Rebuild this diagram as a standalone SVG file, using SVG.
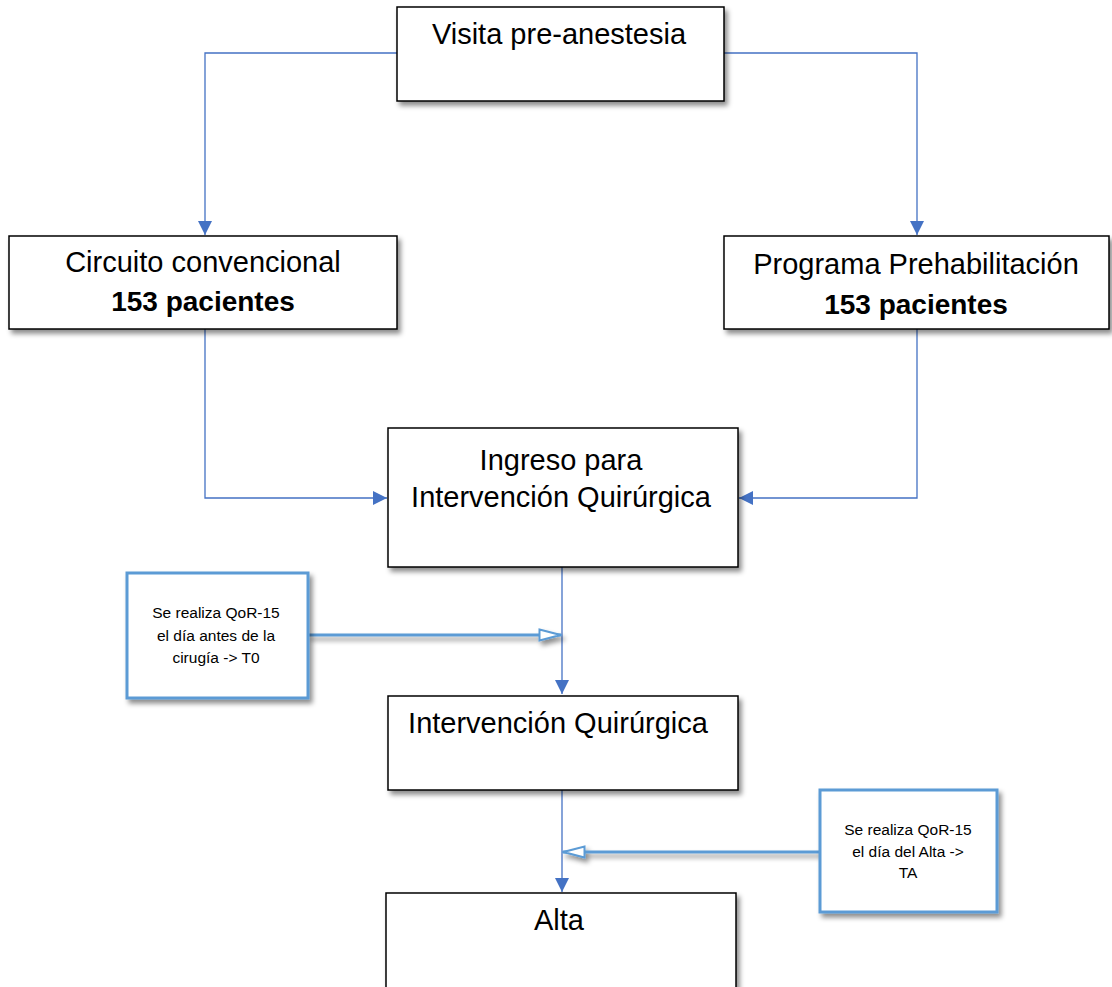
<svg xmlns="http://www.w3.org/2000/svg" width="1112" height="987" viewBox="0 0 1112 987">
<style>
.box{fill:#fff;stroke:#000;stroke-width:1.5}
.note{fill:#fff;stroke:#5b9bd5;stroke-width:3}
.t{font-family:"Liberation Sans",Arial,sans-serif;font-size:29px;fill:#000;text-anchor:middle}
.b{font-weight:bold;font-size:28px}
.s{font-family:"Liberation Sans",Arial,sans-serif;font-size:15.5px;fill:#000;text-anchor:middle}
.c{fill:none;stroke:#4472c4;stroke-width:1.3}
.n{fill:none;stroke:#5b9bd5;stroke-width:3}
</style>
<defs>
<filter id="sh" x="-10%" y="-10%" width="130%" height="140%">
<feDropShadow dx="3" dy="4" stdDeviation="2.5" flood-color="#000" flood-opacity="0.45"/>
</filter>
<marker id="a" viewBox="0 0 10 10" refX="10" refY="5" markerWidth="14" markerHeight="14" markerUnits="userSpaceOnUse" orient="auto">
<path d="M0,0 L10,5 L0,10 z" fill="#4472c4"/>
</marker>
<marker id="o" viewBox="0 0 24 14" refX="23" refY="7" markerWidth="24" markerHeight="14" markerUnits="userSpaceOnUse" orient="auto">
<path d="M1.5,1.5 L22.5,7 L1.5,12.5 z" fill="#fff" stroke="#5b9bd5" stroke-width="2"/>
</marker>
</defs>
<g id="connectors">
<path class="c" d="M397,53 H205 V235" marker-end="url(#a)"/>
<path class="c" d="M724,53 H917 V235" marker-end="url(#a)"/>
<path class="c" d="M205,329 V498 H387" marker-end="url(#a)"/>
<path class="c" d="M917,329 V498 H739" marker-end="url(#a)"/>
<path class="c" d="M562,567 V694" marker-end="url(#a)"/>
<path class="c" d="M562,790 V892" marker-end="url(#a)"/>
<g filter="url(#sh)">
<path class="n" d="M307,635 H561" marker-end="url(#o)"/>
<path class="n" d="M820,852 H563" marker-end="url(#o)"/>
</g>
</g>
<g id="visita">
<rect class="box" x="397" y="7" width="327" height="94" filter="url(#sh)"/>
<text class="t" x="559" y="44">Visita pre-anestesia</text>
</g>
<g id="circuito">
<rect class="box" x="9" y="236" width="388" height="93" filter="url(#sh)"/>
<text class="t" x="203" y="272">Circuito convencional</text>
<text class="t b" x="203" y="311">153 pacientes</text>
</g>
<g id="programa">
<rect class="box" x="724" y="236" width="385" height="93" filter="url(#sh)"/>
<text class="t" x="916" y="274">Programa Prehabilitación</text>
<text class="t b" x="916" y="314">153 pacientes</text>
</g>
<g id="ingreso">
<rect class="box" x="388" y="428" width="350" height="139" filter="url(#sh)"/>
<text class="t" x="561" y="470">Ingreso para</text>
<text class="t" x="561" y="507">Intervención Quirúrgica</text>
</g>
<g id="nota-t0">
<rect class="note" x="127" y="573" width="181" height="125" filter="url(#sh)"/>
<text class="s" x="216" y="618">Se realiza QoR-15</text>
<text class="s" x="216" y="641">el día antes de la</text>
<text class="s" x="216" y="663">cirugía -&gt; T0</text>
</g>
<g id="intervencion">
<rect class="box" x="388" y="696" width="350" height="94" filter="url(#sh)"/>
<text class="t" x="558" y="733">Intervención Quirúrgica</text>
</g>
<g id="nota-ta">
<rect class="note" x="820" y="790" width="177" height="122" filter="url(#sh)"/>
<text class="s" x="908" y="835">Se realiza QoR-15</text>
<text class="s" x="908" y="857">el día del Alta -&gt;</text>
<text class="s" x="908" y="878">TA</text>
</g>
<g id="alta">
<rect class="box" x="386" y="893" width="350" height="110" filter="url(#sh)"/>
<text class="t" x="559" y="930">Alta</text>
</g>
</svg>
